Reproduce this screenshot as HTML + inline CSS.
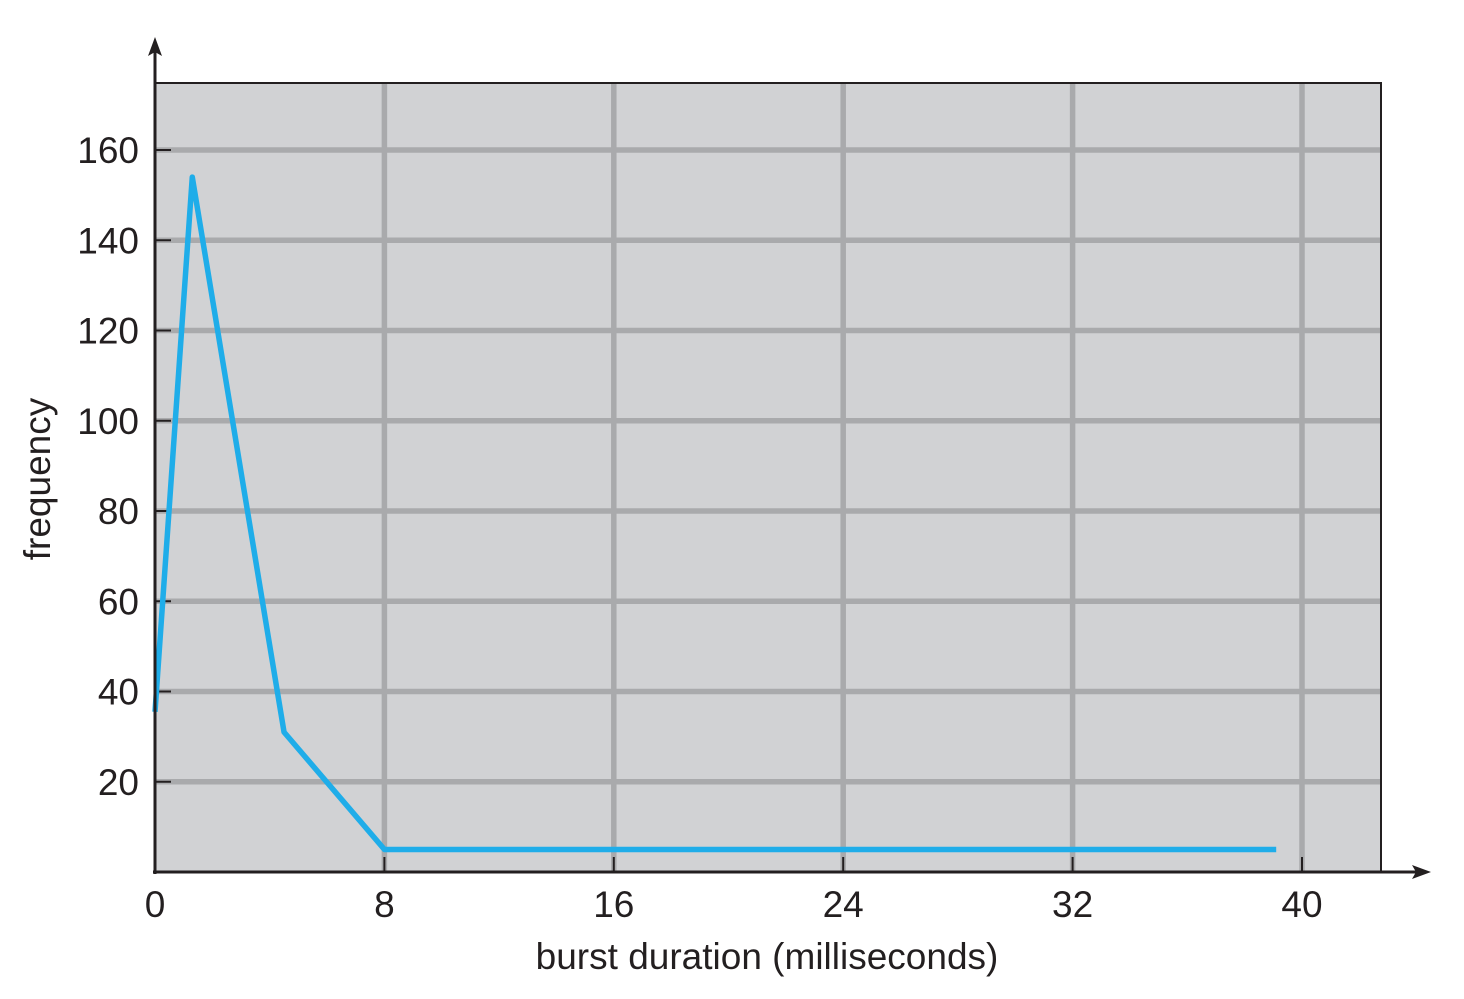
<!DOCTYPE html>
<html><head><meta charset="utf-8"><style>
body{margin:0;background:#fff;}
svg text{font-family:"Liberation Sans",sans-serif;fill:#231f20;}
</style></head><body>
<svg width="1464" height="994" viewBox="0 0 1464 994">
<rect x="155" y="83" width="1226" height="789" fill="#d1d2d4" stroke="#231f20" stroke-width="2"/>
<g id="grid"></g>
<g id="ticks"></g>
<polyline id="series" fill="none" stroke="#1fade9" stroke-width="5.5" stroke-linejoin="round"/>
<line x1="155" y1="874" x2="155" y2="50" stroke="#231f20" stroke-width="3"/>
<polygon points="155,37 148,56 155,52 162,56" fill="#231f20"/>
<line x1="153" y1="872" x2="1418" y2="872" stroke="#231f20" stroke-width="3"/>
<polygon points="1431,872 1412,865 1416,872 1412,879" fill="#231f20"/>
<text x="767" y="969" font-size="37" text-anchor="middle">burst duration (milliseconds)</text>
<text transform="translate(50,479) rotate(-90)" font-size="37" text-anchor="middle">frequency</text>
</svg>
<script>
const xTicks=[0,8,16,24,32,40];
const yTicks=[20,40,60,80,100,120,140,160];
const xs=[0,1.3,4.5,8,39.1];
const ys=[35.5,154,31,5,5];
const X=v=>155+v*(1302-155)/40;
const Y=v=>872-v*(872-150)/160;
const NS="http://www.w3.org/2000/svg";
const grid=document.getElementById('grid'),ticks=document.getElementById('ticks');
function mk(tag,attrs,parent){const e=document.createElementNS(NS,tag);for(const k in attrs)e.setAttribute(k,attrs[k]);parent.appendChild(e);return e;}
xTicks.forEach(t=>{
  if(t>0){const g=mk('line',{x1:X(t),x2:X(t),y1:84,y2:871,stroke:'#a9aaac','stroke-width':5.5},grid);
  
  
  const tk=mk('line',{x1:X(t),x2:X(t),y1:857,y2:872,stroke:'#231f20','stroke-width':2},ticks);
  
  }
  const l=mk('text',{x:X(t),y:917,'font-size':37,'text-anchor':'middle'},ticks);l.textContent=t;
  
  
});
yTicks.forEach(t=>{
  const g=mk('line',{x1:156,x2:1380,y1:Y(t),y2:Y(t),stroke:'#a9aaac','stroke-width':5.5},grid);
  
  
  const tk=mk('line',{x1:155,x2:171,y1:Y(t),y2:Y(t),stroke:'#231f20','stroke-width':2},ticks);
  
  
  const l=mk('text',{x:139,y:Y(t)+13,'font-size':37,'text-anchor':'end'},ticks);l.textContent=t;
  
  
});
document.getElementById('series').setAttribute('points',xs.map((x,i)=>X(x)+','+Y(ys[i])).join(' '));
</script>
</body></html>
